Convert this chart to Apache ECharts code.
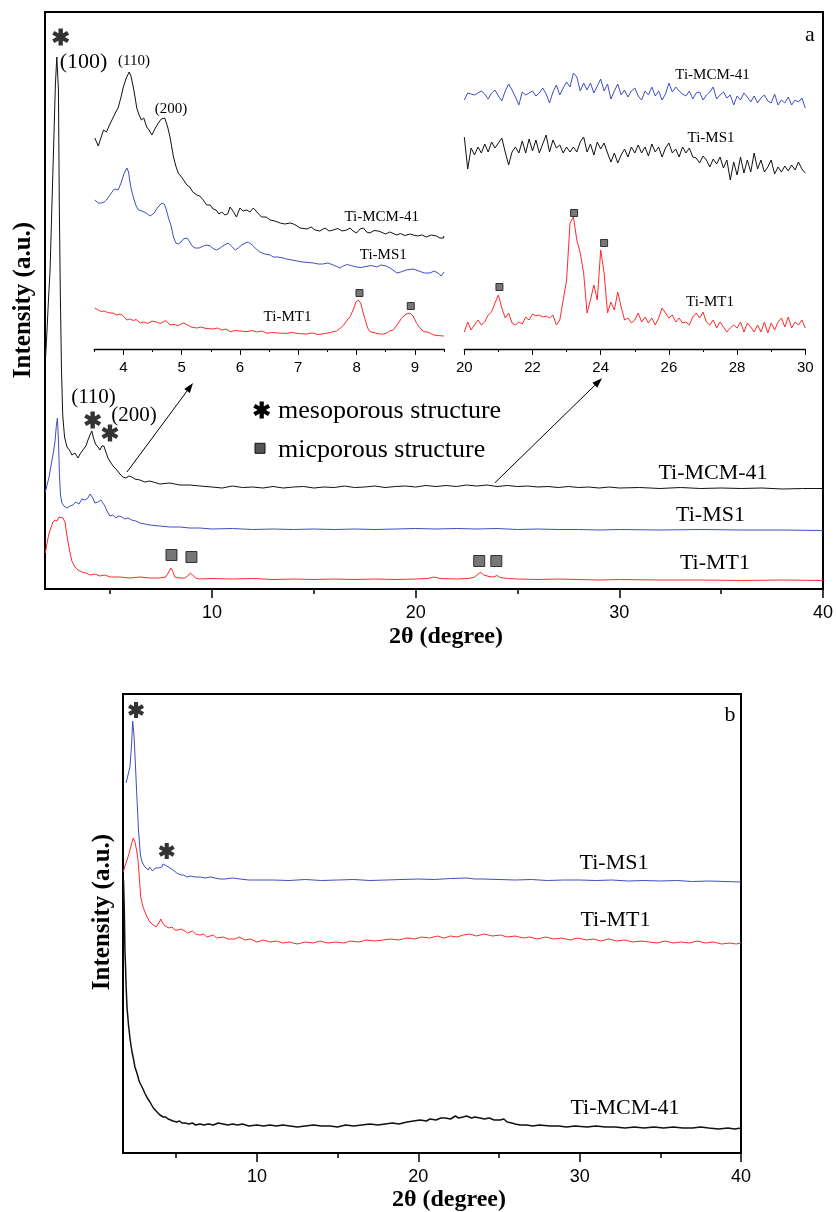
<!DOCTYPE html>
<html><head><meta charset="utf-8">
<script src="https://cdn.jsdelivr.net/npm/echarts@6.0.0/dist/echarts.min.js"></script>
<style>html,body{margin:0;padding:0;background:#fff}#c{width:836px;height:1212px}</style>
</head><body><div id="c"></div><script>
// ---------- tick values ----------
const aMajor = [10, 20, 30, 40];
const aMinor = [5, 15, 25, 35];
const insetL_major = [4, 5, 6, 7, 8, 9];
const insetL_minor = [3.5, 4.5, 5.5, 6.5, 7.5, 8.5, 9.5];
const insetR_major = [20, 22, 24, 26, 28, 30];
const insetR_minor = [21, 23, 25, 27, 29];

// ---------- panel a, full range (2θ, intensity a.u.) ----------
const a_MCM41 = [[1.83,232],[1.90,259],[1.97,289],[2.05,319],[2.14,384],[2.24,454],[2.31,504],[2.38,532],[2.42,533],[2.46,499],[2.50,389],[2.55,299],[2.61,219],[2.67,174],[2.76,152],[2.88,142],[3.03,138],[3.12,134],[3.27,136],[3.42,131],[3.52,135],[3.66,139],[3.81,143],[3.91,149],[4.01,154],[4.10,158],[4.18,151],[4.28,145],[4.40,142],[4.50,139],[4.59,143],[4.69,143],[4.79,137],[4.89,131],[5.04,126],[5.18,122],[5.33,119],[5.48,115],[5.62,112],[5.77,111],[5.92,113],[6.06,112],[6.21,110],[6.46,109],[6.70,107],[6.95,108],[7.44,105],[7.93,106],[8.42,104],[8.91,104],[9.40,103],
 [10,102],[10.5,101],[11,103],[11.5,101.5],[12,102],[12.5,101],[13,102.5],[13.5,101],[14,102],[14.5,102.5],[15,101],[15.5,102],[16,101.5],[16.5,103],[17,101.5],[17.5,102],[18,103],[18.5,101.5],[19,102.5],[19.5,103],[20,102],[20.5,103.5],[21,102.5],[21.5,103.5],[22,102.5],[22.5,104],[23,103],[23.5,104],[24,102.5],[24.5,103.5],[25,102.5],[25.5,103],[26,102],[26.5,102.5],[27,101.5],[27.5,102.5],[28,101.5],[28.5,102],[29,101],[29.5,102],[30,101],[31,101.5],[32,100.5],[33,101.5],[34,100.5],[35,101],[36,100.5],[37,101],[38,100],[39,100.5],[40,100.5]];
const a_MS1 = [[1.82,97],[1.90,104],[2.00,112],[2.09,123],[2.19,134],[2.29,147],[2.36,164],[2.41,171],[2.46,149],[2.51,114],[2.56,94],[2.63,86],[2.73,83],[2.88,81],[3.03,83],[3.17,84],[3.32,87],[3.47,85],[3.61,90],[3.76,89],[3.91,91],[4.01,95],[4.08,97],[4.15,91],[4.25,86],[4.40,87],[4.55,89],[4.64,87],[4.74,83],[4.84,78],[4.99,73],[5.13,74],[5.28,71],[5.43,73],[5.57,72],[5.72,70],[5.87,71],[6.06,69],[6.26,68],[6.46,66],[6.70,65],[6.95,64],[7.44,63],[7.93,62],[8.42,62],[8.91,61],[9.40,61],
 [10,60],[11,60.5],[12,59.5],[13,60],[14,59.5],[15,60],[16,59.5],[17,60],[18,59.5],[19,60],[20,60.5],[21,60],[22,60.5],[23,60],[24,60.5],[25,59.5],[26,60],[27,59.5],[28,59.5],[29,59],[30,59.5],[32,59],[34,59.5],[36,59],[38,59],[40,58.5]];
const a_MT1 = [[1.82,36],[1.90,46],[2.00,56],[2.09,61],[2.19,67],[2.29,69],[2.39,68],[2.49,72],[2.58,73],[2.68,71],[2.78,67],[2.85,57],[2.93,47],[3.03,36],[3.12,28],[3.27,22],[3.42,19],[3.61,17],[3.81,16],[4.01,14],[4.25,15],[4.50,13],[4.74,14],[4.99,12],[5.48,12],[5.97,11],[6.46,12],[6.95,11],[7.44,11],[7.73,12],[7.85,16],[7.98,21],[8.07,18],[8.17,12],[8.42,11],[8.66,11],[8.81,13],[8.93,16],[9.05,14],[9.20,11],[9.40,10],
 [10,10.5],[11,10],[12,10.5],[13,9.5],[14,10],[15,9.5],[16,10],[17,9.5],[18,10],[19,9.5],[20,10],[20.6,10.5],[20.9,12],[21.2,10.5],[22,10],[22.6,10.5],[22.9,12],[23.1,15.5],[23.2,16.5],[23.35,14],[23.6,12.5],[23.8,12],[24.0,13.5],[24.15,11.5],[24.5,10.5],[25,10],[26,9.5],[27,10],[28,9.5],[29,9],[30,9.5],[32,9],[34,9],[36,8.5],[38,9],[40,8.5]];

// ---------- panel a, low-angle inset ----------
const insL_MCM41 = [[3.51,211],[3.57,203],[3.62,212],[3.66,219],[3.71,217],[3.77,225],[3.83,232],[3.87,237],[3.91,241],[3.96,252],[4.00,262],[4.05,271],[4.10,277],[4.13,273],[4.17,262],[4.20,252],[4.23,241],[4.27,234],[4.31,229],[4.35,231],[4.40,222],[4.44,219],[4.49,214],[4.54,220],[4.60,226],[4.65,230],[4.71,231],[4.76,222],[4.80,212],[4.86,192],[4.90,183],[4.94,176],[5.01,171],[5.09,164],[5.14,162],[5.19,157],[5.26,154],[5.31,153],[5.37,149],[5.43,144],[5.49,144],[5.54,140],[5.59,139],[5.64,135],[5.69,137],[5.74,134],[5.79,135],[5.83,142],[5.88,138],[5.94,132],[6.00,141],[6.05,138],[6.12,139],[6.17,137],[6.23,141],[6.29,137],[6.37,132],[6.45,132],[6.52,129],[6.60,128],[6.69,126],[6.77,125],[6.86,126],[6.92,125],[6.98,123],[7.03,121],[7.15,120],[7.22,122],[7.29,119],[7.37,118],[7.46,121],[7.53,118],[7.60,119],[7.68,120.5],[7.75,118],[7.83,119],[7.89,121],[7.94,118],[8.00,116],[8.06,120],[8.12,121],[8.17,117],[8.23,116],[8.30,118.5],[8.37,118],[8.44,116.5],[8.50,115],[8.57,117],[8.69,114],[8.75,115.5],[8.83,113.5],[8.92,115],[8.97,114],[9.05,113],[9.12,114],[9.20,112],[9.28,114],[9.37,113],[9.43,111],[9.49,111],[9.50,113]];
const insL_MS1 = [[3.51,149],[3.57,146],[3.63,146],[3.67,147],[3.71,149],[3.77,154],[3.83,159],[3.87,160],[3.91,159],[3.96,166],[4.01,175],[4.06,181],[4.09,177],[4.11,168],[4.14,159],[4.18,150],[4.22,143],[4.26,139],[4.32,138],[4.39,136],[4.46,133],[4.53,136],[4.58,141],[4.66,146],[4.70,145],[4.73,141],[4.77,132],[4.82,123],[4.86,112],[4.90,106],[4.94,105],[4.99,107],[5.03,110],[5.09,111],[5.13,108],[5.18,103],[5.23,101],[5.30,101],[5.37,103],[5.43,104],[5.49,103],[5.54,100.5],[5.60,99],[5.66,101],[5.73,104],[5.80,106],[5.85,103],[5.92,99],[5.97,101],[6.03,104],[6.09,106],[6.14,107],[6.21,104],[6.28,100],[6.34,97],[6.43,95],[6.52,94],[6.57,92],[6.65,92],[6.74,91],[6.80,90],[6.89,89],[6.98,88],[7.08,87],[7.17,86.5],[7.26,86],[7.34,85],[7.42,85],[7.51,86],[7.60,84],[7.66,82.5],[7.72,81],[7.77,83],[7.84,84.5],[7.90,83.5],[8.00,82],[8.08,81.5],[8.16,82.5],[8.25,83.5],[8.35,82],[8.42,84],[8.51,83],[8.59,80.5],[8.69,76],[8.76,77],[8.85,79],[8.97,80],[9.07,78],[9.16,76],[9.26,76],[9.33,78],[9.40,76],[9.45,73],[9.50,77]];
const insL_MT1 = [[3.51,41],[3.57,39],[3.62,37.5],[3.67,38],[3.71,37],[3.77,36],[3.82,36],[3.89,34],[3.94,35],[3.99,33.5],[4.06,29],[4.11,30],[4.17,28.5],[4.22,29.5],[4.29,26],[4.35,27],[4.42,25.5],[4.49,28],[4.57,27],[4.63,25.5],[4.68,27],[4.73,28.5],[4.80,24],[4.87,24.5],[4.94,23.5],[5.03,26],[5.09,24.5],[5.16,22],[5.26,21],[5.33,22],[5.42,20.5],[5.54,20],[5.62,21],[5.69,19],[5.76,20],[5.83,17.3],[5.92,18.5],[6.00,18],[6.12,17.3],[6.21,18.5],[6.29,17],[6.38,18],[6.46,15.7],[6.55,16.5],[6.65,16],[6.80,15.7],[6.89,16.5],[6.99,15.5],[7.14,15],[7.24,16],[7.34,14.5],[7.49,15.7],[7.58,17],[7.66,18],[7.72,20.7],[7.78,24],[7.84,29],[7.89,32.3],[7.94,39],[7.99,47],[8.03,49],[8.07,46],[8.11,37],[8.15,29],[8.19,21],[8.23,17.3],[8.32,16],[8.40,15],[8.46,15],[8.52,16],[8.57,18],[8.63,19],[8.68,23],[8.73,27],[8.77,30.7],[8.83,34],[8.88,35.5],[8.92,35.7],[8.97,33],[9.03,25.7],[9.09,21],[9.15,17.3],[9.21,17],[9.26,16],[9.32,14],[9.40,13.5],[9.49,13],[9.50,13.5]];

// ---------- panel a, wide-angle inset (20–30°) ----------
const insR_angle = [20.0,20.1,20.2,20.3,20.4,20.5,20.6,20.7,20.8,20.9,21.0,21.1,21.2,21.3,21.4,21.5,21.6,21.7,21.8,21.9,22.0,22.1,22.2,22.3,22.4,22.5,22.6,22.7,22.8,22.9,23.0,23.1,23.2,23.3,23.4,23.5,23.6,23.7,23.8,23.9,24.0,24.1,24.2,24.3,24.4,24.5,24.6,24.7,24.8,24.9,25.0,25.1,25.2,25.3,25.4,25.5,25.6,25.7,25.8,25.9,26.0,26.1,26.2,26.3,26.4,26.5,26.6,26.7,26.8,26.9,27.0,27.1,27.2,27.3,27.4,27.5,27.6,27.7,27.8,27.9,28.0,28.1,28.2,28.3,28.4,28.5,28.6,28.7,28.8,28.9,29.0,29.1,29.2,29.3,29.4,29.5,29.6,29.7,29.8,29.9,30.0];
const insR_MCM41 = [249,256,255,254,256,258,255,250,256,259, 253,248,258,265,259,252,244,257,254,256, 258,253,256,261,255,246,257,264,254,261, 267,262,276,272,258,266,259,266,256,263, 270,258,265,250,258,265,254,259,252,258, 261,253,249,258,254,262,253,258,249,255, 266,257,262,258,255,253,258,250,256,257, 249,254,257,262,250,254,257,251,254,244, 253,249,256,252,247,253,246,251,254,248, 246,255,244,249,246,252,244,249,247,251, 241];
const insR_MS1 = [212,180,201,194,202,196,205,197,207,201, 206,211,197,184,197,202,196,208,196,210, 198,209,196,205,214,197,209,201,204,196, 202,197,202,197,207,212,197,205,194,207, 200,206,196,187,196,186,194,200,192,202, 196,204,196,202,193,205,197,202,192,201, 206,196,200,192,202,196,201,192,191,186, 193,189,182,190,185,192,181,189,169,187, 174,192,176,189,177,196,180,189,177,182, 189,175,182,177,183,178,184,179,187,180, 176];
const insR_MT1 = [17,27,19,24,29,24,27,34,37,46, 54,41,31,36,26,24,27,25,32,29, 35,33,34,32,33,31,34,24,29,49, 69,126,132,109,96,76,36,49,64,49, 99,76,36,47,39,57,42,29,31,26, 29,36,27,32,26,31,24,31,41,36, 31,34,27,31,26,27,24,32,36,31, 37,27,24,29,21,27,22,17,21,24, 21,27,17,26,22,17,24,17,27,16, 26,19,27,31,22,32,21,27,24,29, 21];

// ---------- panel b ----------
const b_MS1 = [[1.89,370],[2.01,378],[2.13,386],[2.23,408],[2.30,432],[2.38,418],[2.47,388],[2.55,360],[2.66,323],[2.78,298],[2.88,291],[3.06,286],[3.15,284],[3.27,283],[3.35,286],[3.44,285],[3.53,282],[3.62,283],[3.70,285],[3.79,286],[3.90,285],[4.0,287],[4.10,286],[4.18,289],[4.30,288],[4.41,287],[4.50,288],[4.61,285],[4.70,284],[4.80,283],[4.92,281],[5.03,280],[5.15,279],[5.30,278],[5.45,278],[5.65,276],[5.9,277],[6.16,276],[6.5,276],[6.78,275],[7.1,276],[7.40,275],[7.7,274],[8.02,274],[8.5,275],[8.95,274],[9.5,273],[10.19,273],
 [11,273],[12,272.5],[13,273.5],[14,272.5],[15,273],[16,273.5],[17,272.5],[18,273],[19,273.5],[20,274],[21,273.5],[22,274.5],[23,275],[23.5,274],[24,274],[25,273.5],[26,273],[27,273.5],[28,272.5],[29,273],[30,273],[31,272.5],[32,273],[33,272],[34,272.5],[35,272],[36,272.5],[37,271.5],[38,272],[39,271.5],[40,271]];
const b_MT1 = [[1.72,281],[1.80,286],[1.89,290],[2.01,296],[2.13,303],[2.26,311],[2.34,315],[2.44,311],[2.54,303],[2.63,293],[2.72,273],[2.80,256],[2.94,246],[3.06,241],[3.22,235],[3.37,231],[3.5,229],[3.62,228],[3.75,226],[3.87,228],[3.96,231],[4.04,234],[4.12,231],[4.18,230],[4.3,227],[4.41,228],[4.55,225],[4.74,226],[4.9,223],[5.11,223],[5.3,224],[5.54,222],[5.7,220],[5.85,221],[6.0,222],[6.2,219],[6.47,218],[6.7,219],[6.9,216],[7.09,217],[7.3,218],[7.5,215],[7.9,216],[8.2,214],[8.64,214],[8.9,216],[9.26,213],[9.6,214],[10.0,211],[10.4,213],[10.8,211],[11.2,212],[11.6,210],[12.0,211],[12.5,209],[13.0,211],[13.5,210],[13.9,212],[14.4,210],[14.9,211],[15.4,210],[15.8,212],[16.3,211],[16.8,213],[17.3,212],[17.8,213],[18.3,214],[18.8,213],[19.3,215],[19.8,214],[20.2,216],[20.7,215],[21.2,217],[21.6,215],[22.0,217],[22.4,216],[22.8,218],[23.2,219],[23.6,217],[24.1,219],[24.6,217],[25.1,218],[25.5,216],[26.0,217],[26.5,215],[26.9,216],[27.4,214],[27.9,216],[28.4,214],[28.9,215],[29.4,213],[29.9,215],[30.4,213],[30.9,214],[31.3,212],[31.8,214],[32.3,212],[32.8,213],[33.3,211],[33.8,212],[34.3,211],[34.8,210],[35.3,212],[35.8,210],[36.3,211],[36.8,210],[37.3,212],[37.8,210],[38.3,211],[38.8,209],[39.3,210],[39.7,209],[40.0,210]];
const b_MCM41 = [[1.73,273],[1.76,255],[1.78,243],[1.82,203],[1.86,185],[1.89,168],[1.95,145],[2.0,136],[2.04,128],[2.09,121],[2.13,115],[2.2,107],[2.26,101],[2.35,94],[2.44,86],[2.52,82],[2.60,78],[2.68,73],[2.75,70],[2.85,67],[2.94,64],[3.05,60],[3.17,56],[3.25,55],[3.37,51],[3.45,49],[3.58,45],[3.7,44],[3.81,41],[3.9,40],[3.99,38],[4.1,37],[4.2,36],[4.35,36],[4.49,34],[4.65,33],[4.8,32],[5.03,31],[5.2,32],[5.35,30],[5.54,30],[5.8,29],[6.0,30],[6.2,28],[6.47,29],[6.7,28],[7.0,29],[7.3,28],[7.6,30],[7.9,29],[8.2,28],[8.5,29],[8.8,28],[9.1,29],[9.5,27],[10.0,28],[10.4,27],[10.8,28],[11.2,27],[11.6,28],[12.05,27],[12.5,26],[13.0,27],[13.5,28],[14.0,27],[14.53,27],[15.0,26],[15.5,28],[16.0,27],[16.5,28],[17.0,29],[17.5,28],[17.94,29],[18.4,30],[18.8,29],[19.31,31],[19.7,32],[20.1,33],[20.5,32],[20.73,34],[21.1,33],[21.4,35],[21.66,35],[22.0,34],[22.3,37],[22.5,35],[22.78,36],[23.0,37],[23.3,35],[23.5,36],[23.83,35],[24.1,34],[24.4,35],[24.7,33],[25.07,33],[25.3,34],[25.51,31],[25.8,30],[26.0,29],[26.31,28],[26.7,28],[27.1,27],[27.5,28],[28.17,27],[28.7,27],[29.2,26],[29.7,27],[30.47,26],[31.0,27],[31.6,26],[32.2,26],[32.8,25],[33.4,26],[34.0,25],[34.6,26],[35.2,25],[35.8,26],[36.4,25],[37.0,25],[37.5,26],[38.0,25],[38.6,24],[39.2,25],[39.6,24],[40.0,25]];

// ---------- peak markers ----------
const a_micro = [[8.01,34],[8.99,32],[23.12,28],[23.96,28]];
const a_meso = [[2.57,552],[4.14,169],[4.99,156]];
const insL_micro = [[8.05,56],[8.93,43]];
const insR_micro = [[21.03,62],[23.22,136],[24.10,106]];
const b_meso = [[2.51,443],[4.41,302]];

// ---------- styling ----------
const SERIF = '"Liberation Serif","Times New Roman",Times,serif';
const SANS = '"Liberation Sans",Arial,Helvetica,sans-serif';
const C_BLACK = '#111111', C_BLUE = '#3d4fc0', C_RED = '#ff2a2a';
const STAR = 'path://M-0.25,-1L0.25,-1L0.25,1L-0.25,1Z M0.716,-0.716L0.966,-0.283L-0.716,0.716L-0.966,0.283Z M0.966,0.283L0.716,0.716L-0.966,-0.283L-0.716,-0.716Z';

function xAx(grid, min, max, ticks, len, labels, fontSize, margin, lineW, showLine) {
  return {
    gridIndex: grid, type: 'value', min: min, max: max, position: 'bottom', offset: 0,
    axisLine: { show: showLine, onZero: false, lineStyle: { color: '#000', width: lineW } },
    axisTick: { show: true, customValues: ticks, length: len, lineStyle: { color: '#000', width: lineW > 1.5 ? 1.5 : 1 } },
    axisLabel: labels ? { show: true, customValues: labels, fontSize: fontSize, fontFamily: SANS, color: '#000', margin: margin } : { show: false },
    splitLine: { show: false }, minorTick: { show: false }
  };
}
function yAx(grid, max) { return { gridIndex: grid, type: 'value', min: 0, max: max, show: false, splitLine: { show: false } }; }
function line(name, data, color, xi, yi, w) {
  return { name: name, type: 'line', data: data, xAxisIndex: xi, yAxisIndex: yi, showSymbol: false, symbol: 'none',
    lineStyle: { color: color, width: w || 1 }, silent: true, animation: false, z: 3 };
}
function zipR(vals) { return insR_angle.map((a, i) => [a, vals[i]]); }
function marks(data, xi, yi, kind, size) {
  return { type: 'scatter', data: data, xAxisIndex: xi, yAxisIndex: yi, symbol: kind === 'star' ? STAR : 'rect', symbolSize: size,
    itemStyle: kind === 'star' ? { color: '#000' } : { color: '#555', borderColor: '#111', borderWidth: 1 }, silent: true, animation: false, z: 5 };
}
function txt(s, x, y, size, opts) {
  opts = opts || {};
  return { type: 'text', x: x, y: y, rotation: opts.rot || 0, z: 10,
    style: { text: s, font: (opts.bold ? 'bold ' : '') + size + 'px ' + (opts.sans ? SANS : SERIF), fill: '#000', align: opts.align || 'center', verticalAlign: 'middle' } };
}
function arrow(x1, y1, x2, y2) {
  const dx = x2 - x1, dy = y2 - y1, L = Math.hypot(dx, dy), ux = dx / L, uy = dy / L;
  const bx = x2 - 10 * ux, by = y2 - 10 * uy, px = -uy, py = ux;
  return [
    { type: 'line', z: 10, shape: { x1: x1, y1: y1, x2: bx, y2: by }, style: { stroke: '#000', lineWidth: 1 } },
    { type: 'polygon', z: 10, shape: { points: [[x2, y2], [bx + 3.5 * px, by + 3.5 * py], [bx - 3.5 * px, by - 3.5 * py]] }, style: { fill: '#000' } }
  ];
}
function legendStar(cx, cy, size) {
  const w = size * 0.125, h = size;
  return { type: 'group', x: cx, y: cy, z: 10, children: [0, Math.PI / 3, -Math.PI / 3].map(r => (
    { type: 'rect', rotation: r, z: 10, shape: { x: -w, y: -h / 2, width: 2 * w, height: h }, style: { fill: '#000' } })) };
}

const option = {
  backgroundColor: '#fff',
  animation: false,
  grid: [
    { left: 45, top: 12, width: 779, height: 577, show: true, borderColor: '#000', borderWidth: 2, backgroundColor: 'transparent' },
    { left: 94.2, top: 40, width: 349.8, height: 309 },
    { left: 464.3, top: 40, width: 341, height: 309 },
    { left: 123, top: 694, width: 618, height: 459, show: true, borderColor: '#000', borderWidth: 2, backgroundColor: 'transparent' }
  ],
  xAxis: [
    xAx(0, 1.8, 40, aMajor, 9, aMajor, 18, 15, 2, true),
    xAx(0, 1.8, 40, aMinor, 5, null, 0, 0, 2, false),
    xAx(1, 3.5, 9.5, insetL_major, 6, insetL_major, 15, 11, 1.3, true),
    xAx(1, 3.5, 9.5, insetL_minor, 3, null, 0, 0, 1.3, false),
    xAx(2, 20, 30, insetR_major, 6, insetR_major, 15, 11, 1.3, true),
    xAx(2, 20, 30, insetR_minor, 3, null, 0, 0, 1.3, false),
    xAx(3, 1.7, 40, aMajor, 9, aMajor, 18, 15, 2, true),
    xAx(3, 1.7, 40, aMinor, 5, null, 0, 0, 2, false)
  ],
  yAxis: [yAx(0, 577), yAx(1, 309), yAx(2, 309), yAx(3, 459)],
  series: [
    line('Ti-MT1', a_MT1, C_RED, 0, 0),
    line('Ti-MS1', a_MS1, C_BLUE, 0, 0),
    line('Ti-MCM-41', a_MCM41, C_BLACK, 0, 0),
    line('Ti-MCM-41 inset', insL_MCM41, C_BLACK, 2, 1),
    line('Ti-MS1 inset', insL_MS1, C_BLUE, 2, 1),
    line('Ti-MT1 inset', insL_MT1, C_RED, 2, 1),
    line('Ti-MCM-41 inset wide', zipR(insR_MCM41), C_BLUE, 4, 2),
    line('Ti-MS1 inset wide', zipR(insR_MS1), C_BLACK, 4, 2),
    line('Ti-MT1 inset wide', zipR(insR_MT1), C_RED, 4, 2),
    line('b Ti-MCM-41', b_MCM41, C_BLACK, 6, 3, 1.5),
    line('b Ti-MT1', b_MT1, C_RED, 6, 3),
    line('b Ti-MS1', b_MS1, C_BLUE, 6, 3),
    marks(a_micro, 0, 0, 'rect', 11),
    marks(a_meso, 0, 0, 'star', 17),
    marks(insL_micro, 2, 1, 'rect', 7),
    marks(insR_micro, 4, 2, 'rect', 7),
    marks(b_meso, 6, 3, 'star', 16)
  ],
  graphic: [].concat([
    txt('a', 810, 35, 22),
    txt('(100)', 83.5, 62, 22),
    txt('(110)', 134, 61, 15),
    txt('(200)', 171, 109, 15),
    txt('(110)', 93.5, 397, 21),
    txt('(200)', 134, 415, 21),
    legendStar(261.7, 410, 17),
    txt('mesoporous structure', 278, 411, 26, { align: 'left' }),
    { type: 'rect', z: 10, shape: { x: 255, y: 443.3, width: 10, height: 10 }, style: { fill: '#555', stroke: '#111', lineWidth: 1 } },
    txt('micporous structure', 278, 450, 26, { align: 'left' }),
    txt('Ti-MCM-41', 713, 473, 22),
    txt('Ti-MS1', 710.5, 515, 22),
    txt('Ti-MT1', 715, 563, 22),
    txt('Ti-MCM-41', 381.7, 216.7, 15),
    txt('Ti-MS1', 383.3, 255, 15),
    txt('Ti-MT1', 287.5, 316.7, 15),
    txt('Ti-MCM-41', 712.5, 75, 15),
    txt('Ti-MS1', 711, 138.3, 15),
    txt('Ti-MT1', 710, 301.7, 15),
    txt('Intensity (a.u.)', 24, 300, 25, { bold: true, rot: Math.PI / 2 }),
    txt('2θ (degree)', 446, 637, 24, { bold: true }),
    txt('b', 730, 715, 22),
    txt('Ti-MS1', 614, 863, 22),
    txt('Ti-MT1', 615.5, 920.5, 22),
    txt('Ti-MCM-41', 625, 1108, 22),
    txt('Intensity (a.u.)', 103, 912, 25, { bold: true, rot: Math.PI / 2 }),
    txt('2θ (degree)', 449, 1200, 24, { bold: true })
  ], arrow(127, 472, 193, 383), arrow(495, 482.7, 602, 378.3))
};
const chart = echarts.init(document.getElementById('c'), null, { renderer: 'canvas', width: 836, height: 1212 });
chart.setOption(option);
</script></body></html>
